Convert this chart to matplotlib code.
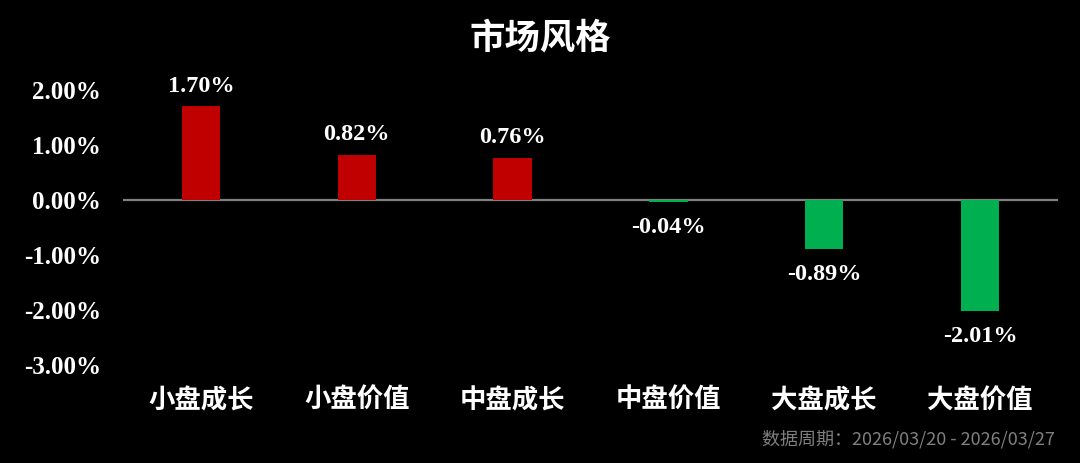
import numpy as np
import matplotlib.pyplot as plt
from matplotlib.ticker import FuncFormatter

categories = ["小盘成长", "小盘价值", "中盘成长", "中盘价值", "大盘成长", "大盘价值"]
values = [1.70, 0.82, 0.76, -0.04, -0.89, -2.01]
yticks = [2, 1, 0, -1, -2, -3]

red = "#C00000"
green = "#00B050"
cjk = ["Noto Sans CJK SC", "DejaVu Sans"]
serif = ["Liberation Serif", "DejaVu Serif"]

fig = plt.figure(figsize=(10.8, 4.63), dpi=100, facecolor="black")
ax = fig.add_axes([123 / 1080, 1 - 365 / 463, 935 / 1080, 275 / 463], facecolor="black")

x = np.arange(len(categories))
colors = [red if v >= 0 else green for v in values]
ax.bar(x, values, width=0.245, color=colors, zorder=2)
ax.axhline(0, color="#808080", lw=1.6, zorder=1)

# value labels above / below each bar
for xi, v in zip(x, values):
    off = 7 if v >= 0 else -11
    ax.annotate(f"{v:.2f}%", (xi, v), xytext=(0, off), textcoords="offset points",
                ha="center", va="bottom" if v >= 0 else "top",
                color="white", fontsize=17.5, fontweight="bold", family=serif)

ax.set_xlim(-0.5, len(categories) - 0.5)
ax.set_ylim(-3, 2)
ax.set_yticks(yticks)
ax.yaxis.set_major_formatter(FuncFormatter(lambda v, p: f"{v:.2f}%"))
for lab in ax.get_yticklabels():
    lab.set_family(serif)
    lab.set_fontweight("bold")
    lab.set_fontsize(18)
    lab.set_color("white")
ax.tick_params(axis="y", length=0, pad=16)

ax.set_xticks(x)
ax.set_xticklabels(categories, family=cjk, fontsize=19, fontweight="bold", color="white")
ax.tick_params(axis="x", length=0, pad=16)

for s in ax.spines.values():
    s.set_visible(False)

fig.text(0.5, 1 - 38 / 463, "市场风格", ha="center", va="center", color="white",
         fontsize=25.5, fontweight="bold", family=cjk)
fig.text(1055 / 1080, 1 - 439 / 463, "数据周期：2026/03/20 - 2026/03/27", ha="right", va="center",
         color="#7F7F7F", fontsize=13, style="italic",
         family=["Noto Sans CJK SC", "DejaVu Sans"])

fig.savefig("out.png", dpi=100, facecolor="black")
